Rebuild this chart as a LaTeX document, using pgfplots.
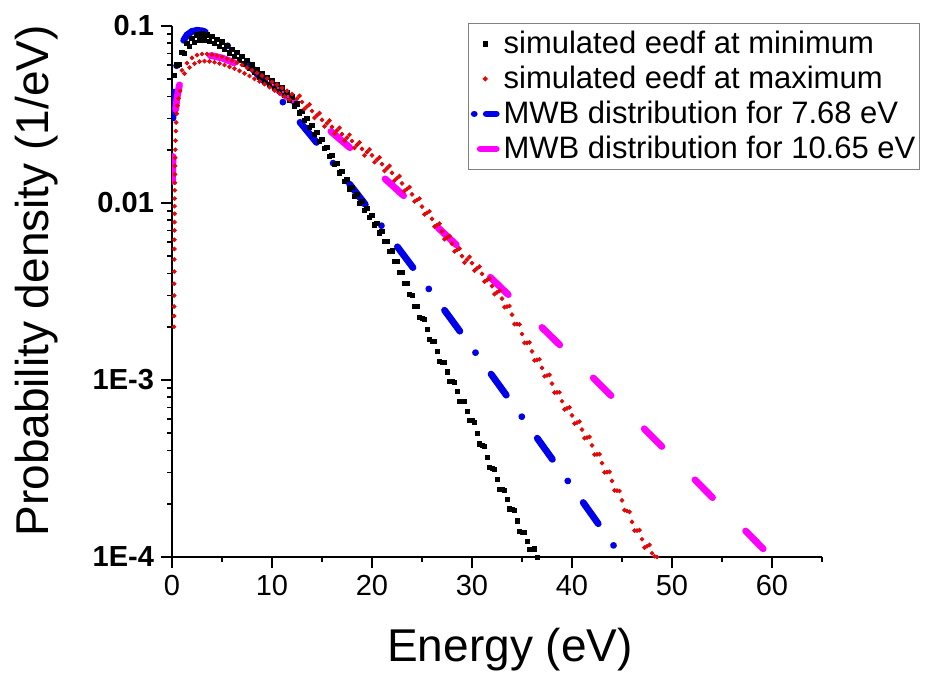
\documentclass[border=0pt]{standalone}
\usepackage{pgfplots}
\pgfplotsset{compat=1.18}
\usepackage{fontspec}
\setmainfont{Liberation Sans}
\definecolor{mwbblue}{RGB}{0,0,235}
\definecolor{mwbmag}{RGB}{255,0,255}
\definecolor{simred}{RGB}{225,10,10}

\pgfplotsset{
  marklegend/.style={legend image code/.code={%
    \draw[mark repeat=2,mark phase=2,##1] plot coordinates {(0pt,0pt) (6.5pt,0pt) (13pt,0pt)};}},
  bluelegend/.style={legend image code/.code={%
    \draw[##1, dash pattern=on 0.01pt off 6pt on 5pt off 5pt] (1pt,0pt) -- (13pt,0pt);}},
  maglegend/.style={legend image code/.code={%
    \draw[##1, dash pattern=on 8pt off 4pt] (4pt,0pt) -- (13pt,0pt);}},
}

% simulated eedf at minimum
\pgfplotstableread{
E f
0.25 0.0525
0.5 0.0603
1.0 0.0708
1.5 0.0794
2.0 0.0851
2.5 0.0891
3.0 0.0902
3.5 0.0891
4.0 0.0871
4.5 0.0841
5.0 0.0813
5.5 0.0776
6.0 0.0741
6.5 0.0708
7.0 0.0676
7.5 0.0638
8.0 0.0603
8.5 0.0569
9.0 0.0537
9.5 0.0513
10.0 0.0490
10.5 0.0468
11.0 0.0447
11.5 0.0422
12.0 0.0398
12.5 0.0363
13.0 0.0331
13.5 0.0302
14.0 0.0275
14.5 0.0251
15.0 0.0229
15.5 0.0207
16.0 0.0186
16.5 0.0168
17.0 0.0151
17.5 0.0136
18.0 0.0123
18.5 0.0112
19.0 0.0102
19.5 0.00933
20.0 0.00851
20.5 0.00767
21.0 0.00692
21.5 0.00610
22.0 0.00537
22.5 0.00468
23.0 0.00407
23.5 0.00351
24.0 0.00302
24.5 0.00260
25.0 0.00224
25.5 0.00193
26.0 0.00166
26.5 0.00145
27.0 0.00126
27.5 0.00111
28.0 0.000977
28.5 0.000861
29.0 0.000759
29.5 0.000668
30.0 0.000589
30.5 0.000501
31.0 0.000427
31.5 0.000367
32.0 0.000316
32.5 0.000275
33.0 0.000240
33.5 0.000211
34.0 0.000186
34.5 0.000160
35.0 0.000138
35.5 0.000123
36.0 0.000110
36.5 0.000100
0.75 0.0610
1.25 0.0698
1.75 0.0765
2.25 0.0810
2.75 0.0834
3.25 0.0834
3.75 0.0819
4.25 0.0796
4.75 0.0769
5.25 0.0739
5.75 0.0705
6.25 0.0674
6.75 0.0644
7.25 0.0611
7.75 0.0577
8.25 0.0545
8.75 0.0514
9.25 0.0488
9.75 0.0466
10.25 0.0445
10.75 0.0425
11.25 0.0404
11.75 0.0381
12.25 0.0354
12.75 0.0323
13.25 0.0294
13.75 0.0268
14.25 0.0245
14.75 0.0223
15.25 0.0203
15.75 0.0183
16.25 0.0165
16.75 0.0148
17.25 0.0133
17.75 0.0120
18.25 0.0109
18.75 0.00995
19.25 0.00908
19.75 0.00830
20.25 0.00752
20.75 0.00678
21.25 0.00605
21.75 0.00533
22.25 0.00467
22.75 0.00407
23.25 0.00352
23.75 0.00304
24.25 0.00261
24.75 0.00225
25.25 0.00221
25.75 0.00169
26.25 0.00165
26.75 0.00127
27.25 0.00126
27.75 0.000981
28.25 0.000974
28.75 0.000761
29.25 0.000756
29.75 0.000591
30.25 0.000578
30.75 0.000436
31.25 0.000421
31.75 0.000321
32.25 0.000313
32.75 0.000242
33.25 0.000239
33.75 0.000187
34.25 0.000183
34.75 0.000140
35.25 0.000138
35.75 0.000110
36.25 0.000111
}\eedfmin

% simulated eedf at maximum
\pgfplotstableread{
E f
0.20 0.0020
0.21 0.0023
0.21 0.0026
0.22 0.0030
0.22 0.0035
0.23 0.0041
0.23 0.0048
0.24 0.0055
0.24 0.0062
0.25 0.0070
0.25 0.0078
0.26 0.0087
0.26 0.0096
0.27 0.0106
0.28 0.0118
0.29 0.0130
0.30 0.0145
0.31 0.0162
0.32 0.0180
0.33 0.0200
0.35 0.0225
0.38 0.0255
0.42 0.0285
0.48 0.0320
0.55 0.0355
0.65 0.0390
0.80 0.0430
1.0 0.0562
1.5 0.0617
2.0 0.0661
2.5 0.0684
3.0 0.0695
3.5 0.0695
4.0 0.0689
4.5 0.0679
5.0 0.0668
5.5 0.0653
6.0 0.0638
6.5 0.0621
7.0 0.0603
7.5 0.0582
8.0 0.0562
8.5 0.0543
9.0 0.0525
9.5 0.0505
10.0 0.0484
10.5 0.0466
11.0 0.0447
11.5 0.0430
12.0 0.0412
1.25 0.0538
1.75 0.0583
2.25 0.0613
2.75 0.0629
3.25 0.0634
3.75 0.0631
4.25 0.0624
4.75 0.0614
5.25 0.0602
5.75 0.0588
6.25 0.0574
6.75 0.0558
7.25 0.0540
7.75 0.0522
8.25 0.0503
8.75 0.0487
9.25 0.0470
9.75 0.0451
10.25 0.0433
10.75 0.0416
11.25 0.0399
11.75 0.0384
12.5 0.0389
13.0 0.0372
13.5 0.0351
14.0 0.0331
14.5 0.0313
15.0 0.0295
15.5 0.0282
16.0 0.0269
16.5 0.0257
17.0 0.0245
17.5 0.0234
18.0 0.0224
18.5 0.0213
19.0 0.0202
19.5 0.0194
20.0 0.0186
20.5 0.0176
21.0 0.0166
21.5 0.0157
22.0 0.0148
22.5 0.0138
23.0 0.0129
23.5 0.0120
24.0 0.0112
24.5 0.0104
25.0 0.00955
25.5 0.00881
26.0 0.00813
26.5 0.00750
27.0 0.00692
27.5 0.00638
28.0 0.00589
28.5 0.00543
29.0 0.00501
29.5 0.00479
30.0 0.00457
30.5 0.00427
31.0 0.00398
31.5 0.00367
32.0 0.00339
32.5 0.00313
33.0 0.00288
33.5 0.00260
34.0 0.00234
34.5 0.00207
35.0 0.00182
35.5 0.00162
36.0 0.00145
36.5 0.00130
37.0 0.00117
37.5 0.00106
38.0 0.000955
38.5 0.000851
39.0 0.000759
39.5 0.000692
40.0 0.000631
40.5 0.000575
41.0 0.000525
41.5 0.000473
42.0 0.000427
42.5 0.000380
43.0 0.000339
43.5 0.000302
44.0 0.000269
44.5 0.000237
45.0 0.000209
45.5 0.000182
46.0 0.000158
46.5 0.000141
47.0 0.000126
47.5 0.000115
48.0 0.000105
48.5 0.000100
12.75 0.0403
13.25 0.0340
13.75 0.0361
14.25 0.0303
14.75 0.0322
15.25 0.0271
15.75 0.0292
16.25 0.0247
16.75 0.0266
17.25 0.0225
17.75 0.0243
18.25 0.0205
18.75 0.0220
19.25 0.0186
19.75 0.0201
20.25 0.0170
20.75 0.0181
21.25 0.0152
21.75 0.0162
22.25 0.0134
22.75 0.0142
23.25 0.0117
23.75 0.0123
24.25 0.0102
24.75 0.0106
25.25 0.00863
25.75 0.00898
26.25 0.00735
26.75 0.00764
27.25 0.00625
27.75 0.00650
28.25 0.00532
28.75 0.00553
29.25 0.00461
29.75 0.00496
30.25 0.00415
30.75 0.00437
31.25 0.00360
31.75 0.00374
32.25 0.00306
32.75 0.00319
33.25 0.00258
33.75 0.00262
34.25 0.00207
34.75 0.00206
35.25 0.00162
35.75 0.00163
36.25 0.00129
36.75 0.00131
37.25 0.00105
37.75 0.00107
38.25 0.000849
38.75 0.000853
39.25 0.000682
39.75 0.000701
40.25 0.000567
40.75 0.000583
41.25 0.000469
41.75 0.000477
42.25 0.000379
42.75 0.000381
43.25 0.000301
43.75 0.000303
44.25 0.000238
44.75 0.000236
45.25 0.000184
45.75 0.000180
46.25 0.000141
46.75 0.000142
47.25 0.000113
47.75 0.000117
48.25 0.000101
}\eedfmax

% MWB distribution, mean energy 7.68 eV
\pgfplotstableread{
E f
0.1 0.03020
0.2 0.04189
0.3 0.05031
0.5 0.06246
0.75 0.07286
1 0.08012
1.5 0.08899
2 0.09320
2.5 0.09451
3 0.09390
3.5 0.09198
4 0.08918
5 0.08202
6 0.07390
7 0.06566
8 0.05774
9 0.05037
10 0.04367
11 0.03768
12 0.03237
13 0.02771
14 0.02365
15 0.02014
16 0.01711
17 0.01450
18 0.01228
19 0.01038
20 0.00876
22 0.00621
24 0.00439
26 0.003092
28 0.002171
30 0.001520
32 0.001062
34 0.000741
36 0.000516
38 0.000359
40 0.000249
42 0.000173
44 0.0001196
45 0.0000995
}\mwblow

% MWB distribution, mean energy 10.65 eV
\pgfplotstableread{
E f
0.05 0.01324
0.1 0.01860
0.2 0.02593
0.3 0.03131
0.5 0.03930
0.75 0.04647
1 0.05181
1.5 0.05913
2 0.06364
2.5 0.06631
3 0.06770
3.5 0.06815
4 0.06790
5 0.06595
6 0.06275
7 0.05888
8 0.05467
9 0.05037
10 0.04612
12 0.03812
14 0.03107
16 0.02506
18 0.02006
20 0.01595
22 0.01262
24 0.00995
26 0.00781
28 0.00612
30 0.00478
32 0.003724
34 0.002896
36 0.002249
38 0.001743
40 0.001350
42 0.001044
44 0.000806
46 0.000622
48 0.000479
50 0.000369
52 0.000284
54 0.000218
56 0.000168
58 0.000129
60 0.0000989
}\mwbhigh

\begin{document}
\begin{tikzpicture}
\path[use as bounding box] (-86pt,-59pt) rectangle (377.5pt,278.5pt);
\begin{axis}[
  scale only axis,
  width=325pt, height=265.5pt,
  xmin=0, xmax=65,
  ymode=log, ymin=1e-4, ymax=0.1,
  axis lines=left,
  axis line style={-, line width=1pt},
  tick align=outside,
  major tick length=5.5pt,
  minor tick length=2.5pt,
  tick style={line width=0.9pt, black},
  xtick={0,10,...,60},
  minor xtick={5,15,...,65},
  ytick={1e-4,1e-3,1e-2,1e-1},
  yticklabels={\textbf{1E-4},\textbf{1E-3},\textbf{0.01},\textbf{0.1}},
  minor ytick={2e-4,3e-4,4e-4,5e-4,6e-4,7e-4,8e-4,9e-4,
    2e-3,3e-3,4e-3,5e-3,6e-3,7e-3,8e-3,9e-3,
    2e-2,3e-2,4e-2,5e-2,6e-2,7e-2,8e-2,9e-2},
  /pgf/number format/assume math mode=true,
  tick label style={font=\fontsize{14.5}{16}\selectfont},
  label style={font=\fontsize{23}{26}\selectfont},
  xlabel={Energy (eV)},
  ylabel={Probability density (1/eV)},
  xlabel style={at={(axis description cs:0.52,0)}, anchor=center, yshift=-46.5pt},
  ylabel style={at={(axis description cs:-0.2077,0.52)}, anchor=center},
  legend style={at={(axis description cs:1.1508,1.006)}, anchor=north east,
    draw=gray, line width=0.6pt, inner xsep=1pt, inner ysep=1.5pt,
    font=\fontsize{15.5}{17}\selectfont,
    nodes={inner sep=1pt, text height=12.3pt, text depth=3.2pt}},
  legend cell align=left,
]
\addplot[only marks, mark=square*, mark size=1.05pt, black, marklegend]
  table[x=E, y=f] {\eedfmin};
\addlegendentry{simulated eedf at minimum}
\addplot[only marks, mark=*, mark size=0.95pt, simred, marklegend]
  table[x=E, y=f] {\eedfmax};
\addlegendentry{simulated eedf at maximum}
\addplot[mwbblue, line width=3.4pt, line cap=round,
  dash pattern=on 13pt off 13.25pt on 0.01pt off 13.25pt, bluelegend]
  table[x=E, y=f] {\mwblow};
\addlegendentry{MWB distribution for 7.68 eV}
\addplot[mwbmag, line width=3.4pt, line cap=round,
  dash pattern=on 12.5pt off 23.5pt, maglegend]
  table[x=E, y=f] {\mwbhigh};
\addlegendentry{MWB distribution for 10.65 eV}
\end{axis}
\end{tikzpicture}
\end{document}
